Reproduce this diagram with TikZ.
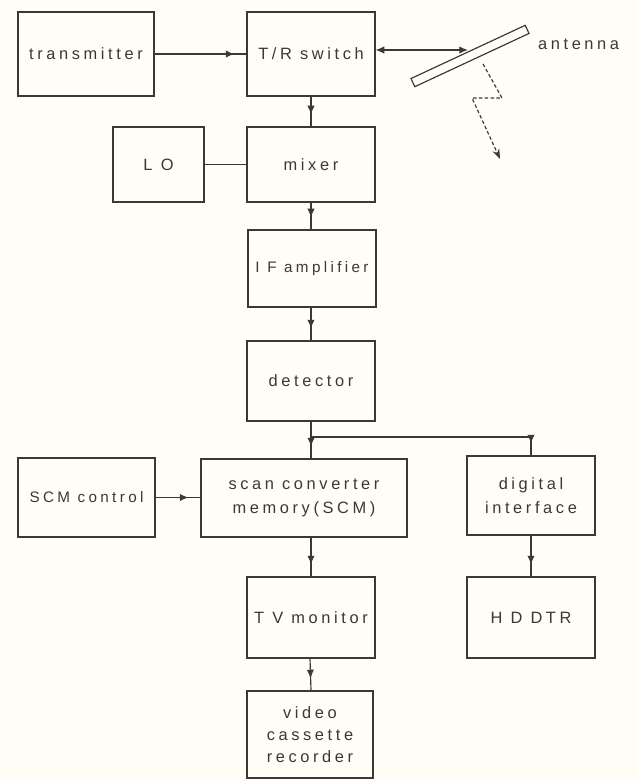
\documentclass[tikz,border=0pt]{standalone}
\usepackage{fontspec}
\newfontfamily\boxfont[LetterSpace=22]{Liberation Sans}
\usetikzlibrary{arrows.meta,decorations.markings}
\definecolor{paper}{RGB}{255,253,246}
\definecolor{ink}{RGB}{60,56,50}
\def\u{0.3mm}
\tikzset{
  blk/.style={draw=ink,line width=1pt,inner sep=1pt,align=center,text=ink,
    font=\boxfont\fontsize{14}{21}\selectfont},
  wire/.style={draw=ink,line width=1pt},
  feedin/.style={postaction={decorate},decoration={markings,
    mark=at position -3.6mm with {\arrow[ink]{Latex[length=2.6mm,width=2.2mm]}}}}
}
\begin{document}
\begin{tikzpicture}[x=\u,y=-\u]
  \fill[paper] (0,0) rectangle (638,780);
  \useasboundingbox (0,0) rectangle (638,780);
  \node[blk,minimum width=136*\u,minimum height=84*\u] (transmitter) at (86,54) {transmitter};
  \node[blk,minimum width=128*\u,minimum height=84*\u] (trsw) at (311,54) {T/R switch};
  \node[blk,minimum width=91*\u,minimum height=75*\u] (lo) at (158.5,164.5) {L O};
  \node[blk,minimum width=128*\u,minimum height=75*\u] (mixer) at (311,164.5) {mixer};
  \node[blk,minimum width=128*\u,minimum height=77*\u,font=\boxfont\fontsize{13}{20}\selectfont] (ifamp) at (312,268.5) {I F amplifier};
  \node[blk,minimum width=128*\u,minimum height=80*\u] (detector) at (311,381) {detector};
  \node[blk,minimum width=206*\u,minimum height=78*\u] (scm) at (304,498) {scan converter\\memory(SCM)};
  \node[blk,minimum width=137*\u,minimum height=79*\u,font=\boxfont\fontsize{13}{20}\selectfont] (scmctrl) at (86.5,497.5) {SCM control};
  \node[blk,minimum width=128*\u,minimum height=79*\u] (digint) at (531,495.5) {digital\\interface};
  \node[blk,minimum width=128*\u,minimum height=81*\u] (tv) at (311,617.5) {T V monitor};
  \node[blk,minimum width=128*\u,minimum height=81*\u] (hddtr) at (531,617.5) {H D DTR};
  \node[blk,minimum width=126*\u,minimum height=87*\u,font=\boxfont\fontsize{14}{19}\selectfont] (vcr) at (310,734.5) {video\\cassette\\recorder};
  % antenna
  \node[draw=ink,line width=1pt,rotate=25,minimum width=126*\u,minimum height=9*\u,inner sep=0pt] (ant) at (470,56) {};
  \node[anchor=west,text=ink,font=\boxfont\fontsize{14}{21}\selectfont] (antlabel) at (534,44) {antenna};
  \coordinate (feed) at (468,50);
  \coordinate (ray0) at (483,64);
  \coordinate (ray1) at (502,98);
  \coordinate (ray2) at (472,98);
  \coordinate (ray3) at (500,159);
  \coordinate (split) at (311,437);
  % connections
  \draw[wire,feedin] (transmitter) -- (trsw);
  \draw[wire,{Latex[length=2.6mm,width=2.2mm]}-{Latex[length=2.6mm,width=2.2mm]}] (feed -| trsw.east) -- (feed);
  \draw[wire,dashed,dash pattern=on 3pt off 2pt,-{Stealth[length=3mm,width=2.2mm]}] (ray0) -- (ray1) -- (ray2) -- (ray3);
  \draw[wire,feedin] (trsw) -- (mixer);
  \draw[wire] (lo) -- (mixer);
  \draw[wire,feedin] (mixer) -- (ifamp.north -| mixer);
  \draw[wire,feedin] (ifamp.south -| detector) -- (detector);
  \draw[wire,feedin] (detector.south) -- (detector.south |- scm.north);
  \draw[wire,feedin] (split) -| (digint.north);
  \draw[wire,feedin] (scmctrl.east) -- (scmctrl.east -| scm.west);
  \draw[wire,feedin] (tv.north |- scm.south) -- (tv.north);
  \draw[wire,feedin] (tv.south -| vcr) -- (vcr.north -| tv);
  \draw[wire,feedin] (digint) -- (hddtr);
\end{tikzpicture}
\end{document}
